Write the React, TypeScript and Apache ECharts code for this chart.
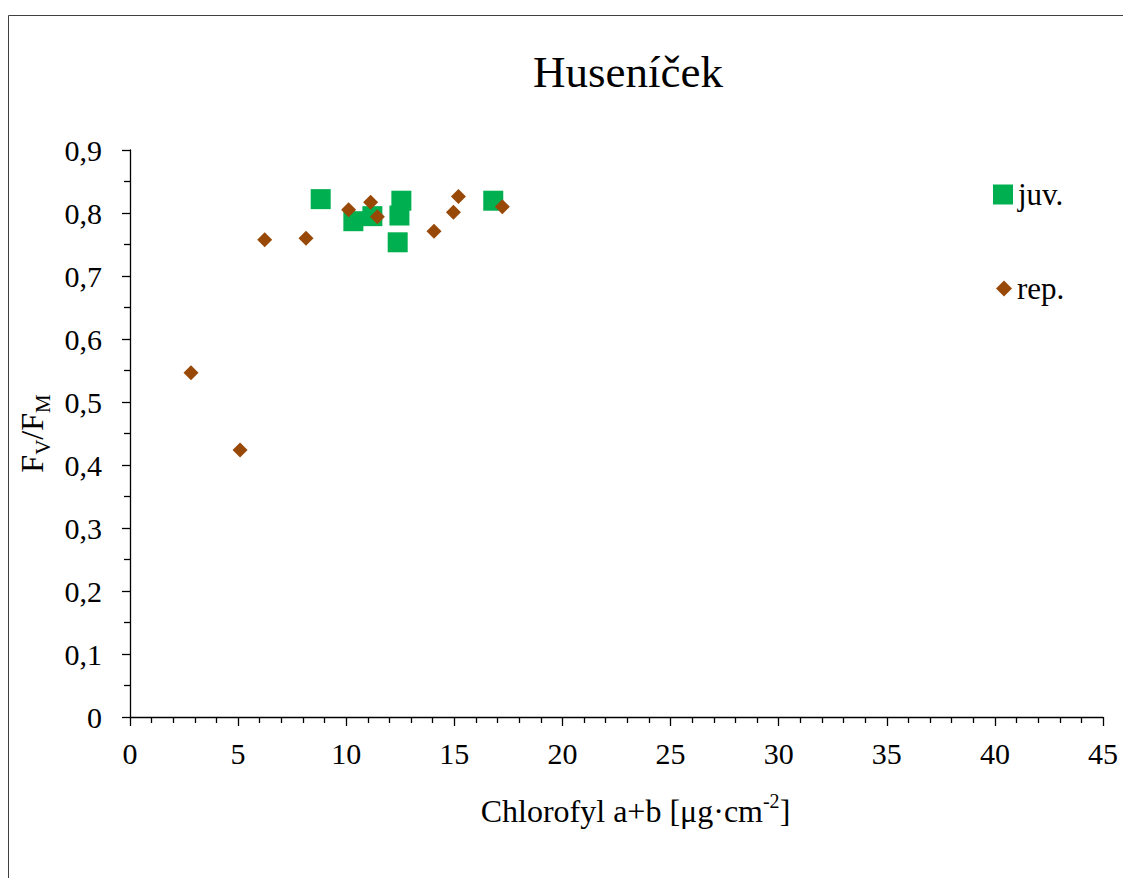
import React, { useEffect, useRef } from "react";
import * as echarts from "echarts";

const titleText = "Huseníček";
const juvName = "juv.";
const repName = "rep.";
const juvX = [8.82, 10.33, 11.21, 12.55, 12.46, 12.38, 16.8];
const juvY = [0.822, 0.787, 0.795, 0.8195, 0.796, 0.7535, 0.8195];
const repX = [2.82, 5.09, 6.23, 8.14, 10.11, 11.13, 11.44, 14.06, 15.19, 14.96, 17.22];
const repY = [0.5466, 0.4238, 0.7577, 0.76, 0.805, 0.817, 0.794, 0.771, 0.826, 0.801, 0.81];
const xTicks = [0, 5, 10, 15, 20, 25, 30, 35, 40, 45];
const yTicks = [0, 0.1, 0.2, 0.3, 0.4, 0.5, 0.6, 0.7, 0.8, 0.9];

const FONT = "'Liberation Serif', 'Times New Roman', serif";

export default function App() {
  const ref = useRef<HTMLDivElement>(null);
  useEffect(() => {
    if (!ref.current) return;
    const chart = echarts.init(ref.current, undefined, { renderer: "svg" });
    const juvData = juvX.map((x, i) => [x, juvY[i]]);
    const repData = repX.map((x, i) => [x, repY[i]]);
    chart.setOption({
      animation: false,
      backgroundColor: "#ffffff",
      textStyle: { fontFamily: FONT },
      title: {
        text: titleText,
        left: 533,
        top: 49,
        padding: 0,
        textStyle: { fontFamily: FONT, fontSize: 45, fontWeight: "normal", color: "#000" },
      },
      graphic: [
        {
          type: "rect",
          shape: { x: 8.5, y: 15.5, width: 1300, height: 1000 },
          style: { fill: "none", stroke: "#404040", lineWidth: 1 },
          silent: true,
          z: -1,
        },
      ],
      legend: [
        {
          data: [juvName],
          left: 993,
          top: 179,
          padding: 0,
          itemWidth: 20,
          itemHeight: 20,
          itemGap: 5,
          textStyle: { fontFamily: FONT, fontSize: 31, color: "#000" },
        },
        {
          data: [repName],
          left: 996,
          top: 273,
          padding: 0,
          itemWidth: 16,
          itemHeight: 16,
          textStyle: { fontFamily: FONT, fontSize: 31, color: "#000" },
        },
      ],
      grid: { left: 130, top: 150, width: 973, height: 567, containLabel: false },
      xAxis: {
        type: "value",
        min: xTicks[0],
        max: xTicks[xTicks.length - 1],
        interval: 5,
        name: "{n|Chlorofyl a+b [μg·cm}{s|-2}{n|]}",
        nameLocation: "middle",
        nameGap: 74,
        nameTextStyle: {
          padding: [0, 0, 0, 38],
          rich: {
            n: { fontFamily: FONT, fontSize: 32, color: "#000", lineHeight: 36, verticalAlign: "bottom" },
            s: { fontFamily: FONT, fontSize: 20, color: "#000", lineHeight: 36, verticalAlign: "top" },
          },
        },
        axisLine: { show: true, lineStyle: { color: "#000", width: 1.3 } },
        axisTick: { show: true, length: 9, lineStyle: { color: "#000", width: 1.3 } },
        minorTick: { show: true, splitNumber: 5, length: 6, lineStyle: { color: "#000", width: 1.3 } },
        splitLine: { show: false },
        axisLabel: { fontFamily: FONT, fontSize: 30, color: "#000", margin: 21 },
      },
      yAxis: {
        type: "value",
        min: yTicks[0],
        max: yTicks[yTicks.length - 1],
        interval: 0.1,
        name: "{n|F}{s|V}{n|/F}{s|M}",
        nameLocation: "middle",
        nameGap: 70,
        nameRotate: 90,
        nameTextStyle: {
          rich: {
            n: { fontFamily: FONT, fontSize: 32, color: "#000", lineHeight: 38, verticalAlign: "top" },
            s: { fontFamily: FONT, fontSize: 21, color: "#000", lineHeight: 38, verticalAlign: "bottom" },
          },
        },
        axisLine: { show: true, lineStyle: { color: "#000", width: 1.3 } },
        axisTick: { show: true, length: 8, lineStyle: { color: "#000", width: 1.3 } },
        minorTick: { show: true, splitNumber: 2, length: 6, lineStyle: { color: "#000", width: 1.3 } },
        splitLine: { show: false },
        axisLabel: {
          fontFamily: FONT,
          fontSize: 30,
          color: "#000",
          margin: 28,
          formatter: (v: number) => (v === 0 ? "0" : v.toFixed(1).replace(".", ",")),
        },
      },
      series: [
        {
          name: juvName,
          type: "scatter",
          symbol: "rect",
          symbolSize: 20,
          itemStyle: { color: "#00B050", opacity: 1 },
          data: juvData,
        },
        {
          name: repName,
          type: "scatter",
          symbol: "diamond",
          symbolSize: 15,
          itemStyle: { color: "#984807", opacity: 1 },
          data: repData,
        },
      ],
    });
    return () => chart.dispose();
  }, []);
  return (
    <div
      ref={ref}
      style={{ position: "fixed", left: 0, top: 0, width: 1123, height: 878, background: "#fff" }}
    />
  );
}
